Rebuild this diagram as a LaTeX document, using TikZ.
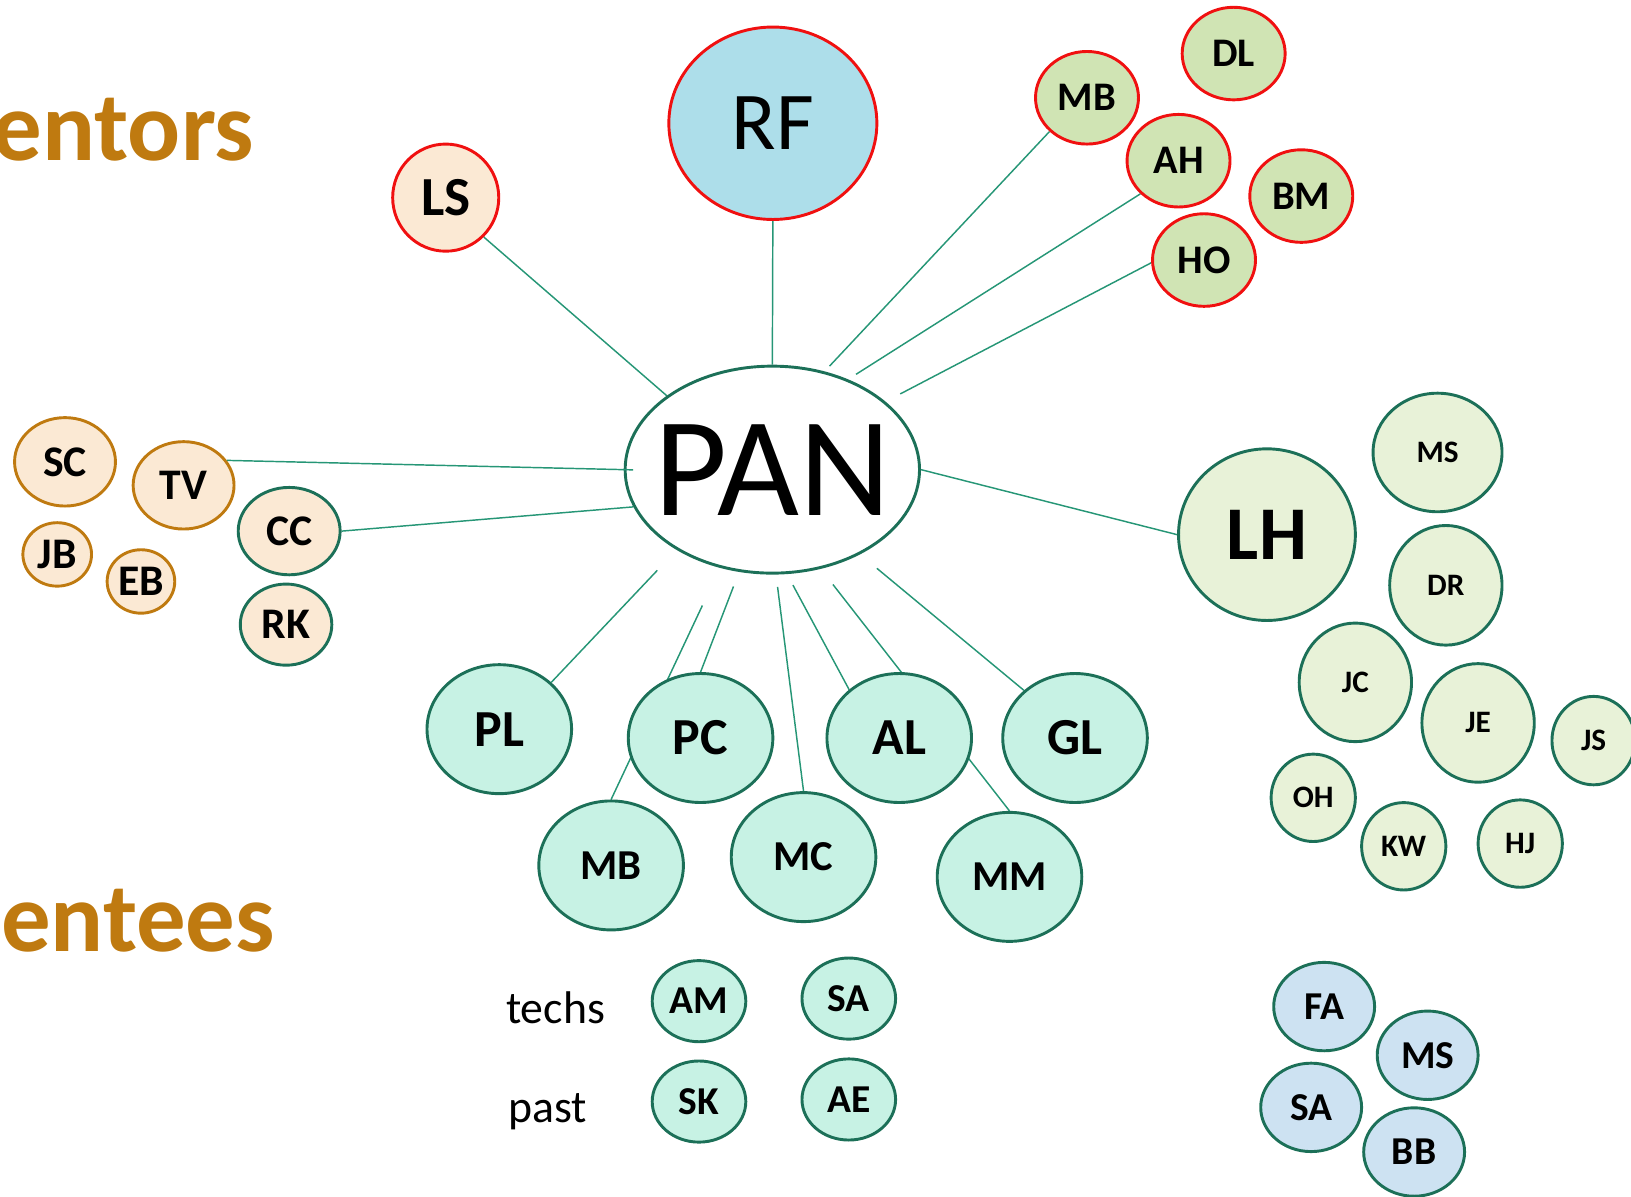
\documentclass[tikz,border=0pt]{standalone}
\usepackage{fontspec}
\setmainfont{Carlito}
\usetikzlibrary{shapes.geometric, backgrounds}

\definecolor{edgec}{RGB}{28,112,88}
\definecolor{linkc}{RGB}{38,150,118}
\definecolor{redc}{RGB}{240,16,16}
\definecolor{brownc}{RGB}{191,122,16}
\definecolor{peachc}{RGB}{251,233,212}
\definecolor{rfc}{RGB}{173,222,234}
\definecolor{leafc}{RGB}{208,228,180}
\definecolor{palec}{RGB}{232,242,216}
\definecolor{mintc}{RGB}{199,242,228}
\definecolor{skyc}{RGB}{205,226,242}

\newcommand\fsz[1]{\fontsize{#1}{#1}\selectfont}

\begin{document}
\begin{tikzpicture}[x=1pt,y=-1pt,
            bub/.style={ellipse, draw=edgec, line width=2.8pt, inner sep=0pt, font=\fsz{#1}\bfseries},
            bub/.default=40,
            sz/.style 2 args={minimum width=#1pt, minimum height=#2pt},
            mentor/.style={bub=39, fill=leafc, draw=redc, sz={99}{89}},
            oldm/.style={bub=42, fill=peachc},
            lhc/.style={bub=30, fill=palec},
            mtee/.style={bub=50, fill=mintc, sz={139}{124}},
            mteesm/.style={bub=41, fill=mintc, sz={139}{124}},
            tech/.style={bub=38, fill=mintc, sz={90}{78}},
            blu/.style={bub=38, fill=skyc, sz={97}{85}}]
             \useasboundingbox (0,0) rectangle (1568,1150);
             \clip (0,0) rectangle (1568,1150);

             \node [anchor=base east, font=\fsz{95}\bfseries, text=brownc] at (248,154) (mentors) {Mentors};
             \node [anchor=base east, font=\fsz{95}\bfseries, text=brownc] at (268,915) (mentees) {Mentees};

             \node [bub, font=\fsz{136}, fill=white, sz={283}{199}, inner xsep=-60pt] at (742.5,451.5) (pan) {PAN};
             \node [bub, font=\fsz{79}, fill=rfc, draw=redc, sz={200}{185}] at (743,118.5) (rf) {RF};
             \node [bub=53, fill=peachc, draw=redc, sz={102}{103}] at (428.5,190) (ls) {LS};

             \node [mentor] at (1045,94) (mbt) {MB};
             \node [mentor] at (1186,51.5) (dl) {DL};
             \node [mentor] at (1133,154.5) (ah) {AH};
             \node [mentor] at (1251,188.5) (bm) {BM};
             \node [mentor] at (1157.5,250) (ho) {HO};

             \node [oldm, draw=brownc, sz={97}{85}] at (62.5,444) (sc) {SC};
             \node [oldm, draw=brownc, sz={97}{84}] at (176.5,466.6) (tv) {TV};
             \node [oldm, draw=brownc, sz={66}{61}] at (55,533) (jb) {JB};
             \node [oldm, draw=brownc, sz={65}{61}] at (135.5,559) (eb) {EB};
             \node [oldm, sz={98}{84}] at (278,510.6) (cc) {CC};
             \node [oldm, sz={88}{78}] at (275,600.5) (rk) {RK};

             \node [lhc, font=\fsz{73}\bfseries, sz={170}{165}] at (1218,514) (lh) {LH};
             \node [lhc, sz={124}{114}] at (1382,435) (msg) {MS};
             \node [lhc, sz={108}{115}] at (1390,562.7) (dr) {DR};
             \node [lhc, sz={108}{114}] at (1303,656) (jc) {JC};
             \node [lhc, sz={108}{114}] at (1421,695) (je) {JE};
             \node [lhc, sz={80}{85}] at (1532,712) (js) {JS};
             \node [lhc, sz={81}{84}] at (1262.5,767) (oh) {OH};
             \node [lhc, sz={81}{84}] at (1349.5,813.6) (kw) {KW};
             \node [lhc, sz={81}{84}] at (1461.5,811) (hj) {HJ};

             \node [mtee] at (480,701) (pl) {PL};
             \node [mtee] at (673.5,709.5) (pc) {PC};
             \node [mtee] at (864.5,709.5) (al) {AL};
             \node [mtee] at (1033.5,709.5) (gl) {GL};
             \node [mteesm] at (587.5,832) (mbl) {MB};
             \node [mteesm] at (772.5,824) (mc) {MC};
             \node [mteesm] at (970.5,843) (mm) {MM};

             \node [anchor=base west, font=\fsz{44}] at (483,984) (techs) {techs};
             \node [anchor=base west, font=\fsz{44}] at (485,1079) (past) {past};
             \node [tech] at (672,962.5) (am) {AM};
             \node [tech] at (816,960) (sa) {SA};
             \node [tech] at (672,1059) (sk) {SK};
             \node [tech] at (816,1057) (ae) {AE};

             \node [blu] at (1273,967.7) (fa) {FA};
             \node [blu] at (1372.5,1014.5) (msb) {MS};
             \node [blu] at (1260.5,1064.6) (sab) {SA};
             \node [blu] at (1359.5,1107.5) (bb) {BB};

             \tikzstyle{link} = [draw=linkc, line width=1.4pt]
             \begin{scope}[on background layer]
             \draw [link] (pan.90) -- (rf.270);
             \draw [link, shorten <=7pt] (pan.62) -- (mbt.222);
             \draw [link, shorten <=9pt] (pan.50) -- (ah.221);
             \draw [link, shorten <=16pt] (pan.31) -- (ho.183);
             \draw [link] (pan.145) -- (ls.314);
             \draw [link] (pan.195) -- (cc.0);
             \draw [link] (pan.0) -- (lh.180);
             \draw [link, shorten <=27pt] (pan.220) -- (pl.42);
             \draw [link, shorten <=40pt] (pan.242) -- (mbl.90);
             \draw [link, shorten <=15pt] (pan.252) -- (pc.90);
             \draw [link, shorten <=12pt] (pan.272) -- (mc.90);
             \draw [link, shorten <=12pt] (pan.278) -- (al.136);
             \draw [link, shorten <=19pt] (pan.296) -- (mm.90);
             \draw [link, shorten <=21pt] (pan.316) -- (gl.137);
             \end{scope}
             \draw [link, shorten <=-9pt] (pan.180) -- (tv.30);
\end{tikzpicture}
\end{document}
